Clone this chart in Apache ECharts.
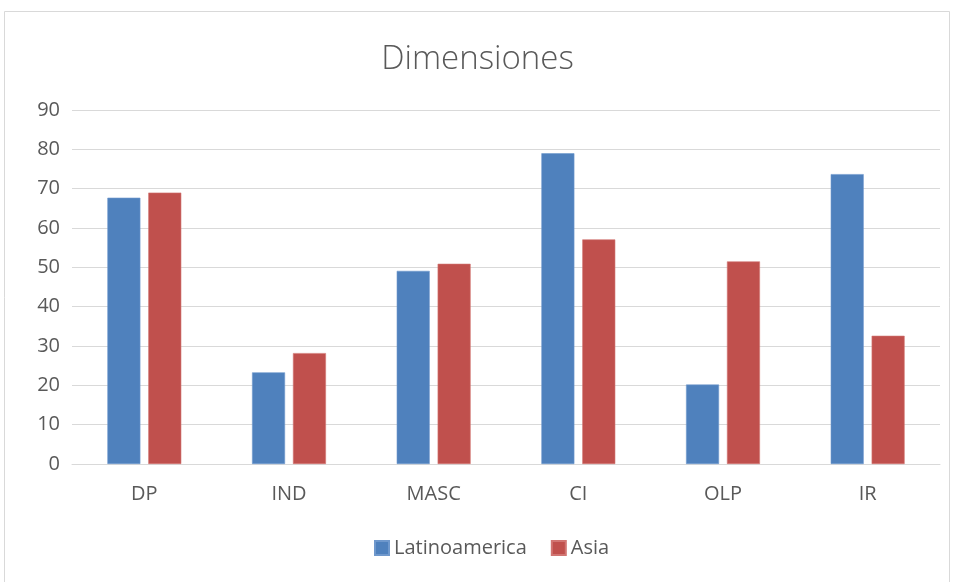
<!DOCTYPE html>
<html>
<head>
<meta charset="utf-8">
<script src="https://cdn.jsdelivr.net/npm/echarts@6/dist/echarts.min.js"></script>
<style>
  html, body { margin: 0; padding: 0; background: #fff; }
  #chart { width: 955px; height: 582px; }
</style>
</head>
<body>
<div id="chart"></div>
<script>
const categories = ['DP', 'IND', 'MASC', 'CI', 'OLP', 'IR'];
const latinoamerica = [67.7, 23.3, 49.1, 79.0, 20.2, 73.7];
const asia = [69.0, 28.2, 50.9, 57.1, 51.5, 32.6];
const seriesNames = ['Latinoamerica', 'Asia'];

const textColor = '#595959';
const fontFamily = '"Open Sans", "Noto Sans", sans-serif';

const chart = echarts.init(document.getElementById('chart'), null, { renderer: 'canvas' });

chart.setOption({
  backgroundColor: '#ffffff',
  animation: false,
  title: {
    text: 'Dimensiones',
    left: 'center',
    top: 38,
    textStyle: { fontFamily: fontFamily, fontWeight: 300, fontSize: 33, color: textColor }
  },
  graphic: [{
    type: 'rect',
    shape: { x: 4.5, y: 11.5, width: 945, height: 580 },
    style: { fill: 'none', stroke: '#d9d9d9', lineWidth: 1 },
    silent: true
  }],
  legend: {
    bottom: 19,
    left: 369,
    itemWidth: 14,
    itemHeight: 14,
    itemGap: 24,
    icon: 'rect',
    textStyle: { fontFamily: fontFamily, fontSize: 20, color: textColor },
    data: seriesNames
  },
  grid: { left: 72, right: 15, top: 110, bottom: 118 },
  xAxis: {
    type: 'category',
    data: categories,
    axisLine: { lineStyle: { color: '#d9d9d9', width: 1 } },
    axisTick: { show: false },
    axisLabel: { fontFamily: fontFamily, fontSize: 20, color: textColor, margin: 20 }
  },
  yAxis: {
    type: 'value',
    min: 0,
    max: 90,
    interval: 10,
    axisLine: { show: false },
    axisTick: { show: false },
    splitLine: { lineStyle: { color: '#d9d9d9', width: 1 } },
    axisLabel: { fontFamily: fontFamily, fontSize: 20, color: textColor, margin: 12 }
  },
  series: [
    {
      name: seriesNames[0],
      type: 'bar',
      data: latinoamerica,
      barWidth: 33,
      barGap: '24%',
      itemStyle: { color: '#4f81bd', borderColor: '#6f98cc', borderWidth: 0.6 }
    },
    {
      name: seriesNames[1],
      type: 'bar',
      data: asia,
      barWidth: 33,
      barGap: '24%',
      itemStyle: { color: '#c0504d', borderColor: '#d17572', borderWidth: 0.6 }
    }
  ]
});
</script>
</body>
</html>
